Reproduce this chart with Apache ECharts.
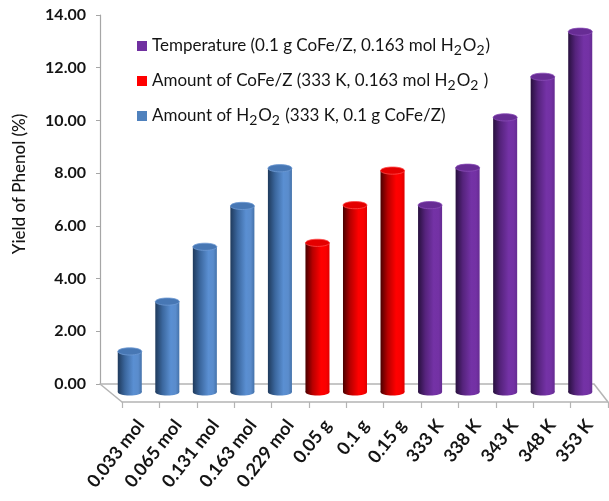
<!DOCTYPE html>
<html>
<head>
<meta charset="utf-8">
<script src="https://cdn.jsdelivr.net/npm/echarts@6/dist/echarts.min.js"></script>
<style>
  html, body { margin: 0; padding: 0; background: #ffffff; }
  #chart { width: 609px; height: 501px; }
</style>
</head>
<body>
<div id="chart"></div>
<script>
// Categories along the floor of the chart
const categories = [
  '0.033 mol', '0.065 mol', '0.131 mol', '0.163 mol', '0.229 mol',
  '0.05 g', '0.1 g', '0.15 g',
  '333 K', '338 K', '343 K', '348 K', '353 K'
];

// Phenol yield (%) for each group of experiments
const h2o2Yield = [1.54, 3.43, 5.51, 7.06, 8.49];          // 0.033 .. 0.229 mol H2O2
const catalystYield = [5.66, 7.09, 8.40];                  // 0.05 .. 0.15 g CoFe/Z
const temperatureYield = [7.09, 8.51, 10.42, 11.96, 13.67]; // 333 .. 353 K

const seriesNames = {
  temperature: 'Temperature (0.1 g CoFe/Z, 0.163 mol H2O2)',
  catalyst: 'Amount of CoFe/Z (333 K, 0.163 mol H2O2 )',
  h2o2: 'Amount of H2O2 (333 K, 0.1 g CoFe/Z)'
};

const yAxisMin = 0, yAxisMax = 14, yAxisStep = 2;
const yAxisTitle = 'Yield of Phenol (%)';

// Layout of the pseudo-3D box: back wall, mid-depth (bars) and front edge of the floor
const BACK = { left: 100, right: 594, top: 15, floor: 384 };
const MID = { left: 111, right: 599, floor: 392 };
const FRONT = { left: 122, right: 608, floor: 402 };
const plotHeight = BACK.floor - BACK.top;

const FONT = 'Lato, "Open Sans", sans-serif';
const FLOOR_COLOR = '#b4b4b4';

const palettes = {
  h2o2: {
    legend: '#4f81bd',
    body: [
      { offset: 0, color: '#1f3a5c' }, { offset: 0.3, color: '#3b679e' },
      { offset: 0.65, color: '#5a8fd2' }, { offset: 0.85, color: '#5a8ccc' },
      { offset: 1, color: '#4472aa' }
    ],
    top: '#4777b4', rim: '#6f9bd4'
  },
  catalyst: {
    legend: '#ff0000',
    body: [
      { offset: 0, color: '#4a0000' }, { offset: 0.3, color: '#b80000' },
      { offset: 0.65, color: '#ff0000' }, { offset: 0.85, color: '#fa0000' },
      { offset: 1, color: '#e00000' }
    ],
    top: '#e40000', rim: '#ff4a4a'
  },
  temperature: {
    legend: '#7030a0',
    body: [
      { offset: 0, color: '#28103e' }, { offset: 0.3, color: '#55237c' },
      { offset: 0.65, color: '#7432a6' }, { offset: 0.85, color: '#7331a4' },
      { offset: 1, color: '#652b92' }
    ],
    top: '#672c94', rim: '#8a4cb8'
  }
};

// Pair each value with its category index
function toPoints(values, startIndex) {
  return values.map((v, k) => [startIndex + k, v]);
}

// Draws a cylinder: body + rounded base, capped by an ellipse
function cylinder(palette) {
  return function (params, api) {
    const i = api.value(0);
    const v = api.value(1);
    const top = api.coord([i, v]);
    const base = api.coord([i, 0]);
    const rx = api.size([1, 0])[0] * 0.32;
    const ry = rx * 0.3;
    const cx = top[0];
    const grad = () => new echarts.graphic.LinearGradient(0, 0, 1, 0, palette.body);
    return {
      type: 'group',
      children: [
        { type: 'ellipse', shape: { cx: cx, cy: base[1], rx: rx, ry: ry }, style: { fill: grad() } },
        { type: 'rect', shape: { x: cx - rx, y: top[1], width: rx * 2, height: base[1] - top[1] }, style: { fill: grad() } },
        { type: 'ellipse', shape: { cx: cx, cy: top[1], rx: rx, ry: ry },
          style: { fill: palette.top, stroke: palette.rim, lineWidth: 0.8 } }
      ]
    };
  };
}

function cylinderSeries(key, values, startIndex) {
  return {
    name: seriesNames[key],
    type: 'custom',
    xAxisIndex: 1,
    yAxisIndex: 1,
    itemStyle: { color: palettes[key].legend },
    renderItem: cylinder(palettes[key]),
    encode: { x: 0, y: 1 },
    data: toPoints(values, startIndex)
  };
}

// Rich-text subscripts for "H2O2"
function withSubscripts(name) {
  return name.split(/(H2O2)/).map(part =>
    part === 'H2O2' ? '{n|H}{s|2}{n|O}{s|2}' : (part ? '{n|' + part + '}' : '')
  ).join('');
}

const chart = echarts.init(document.getElementById('chart'), null, { renderer: 'canvas' });

chart.setOption({
  backgroundColor: '#ffffff',
  animation: false,
  textStyle: { fontFamily: FONT },
  grid: [
    { left: BACK.left, width: BACK.right - BACK.left, top: BACK.top, height: plotHeight },
    { left: MID.left, width: MID.right - MID.left, top: MID.floor - plotHeight, height: plotHeight },
    { left: FRONT.left, width: FRONT.right - FRONT.left, top: FRONT.floor - plotHeight, height: plotHeight }
  ],
  xAxis: [
    {
      gridIndex: 0, type: 'category', data: categories,
      axisLine: { show: true, lineStyle: { color: FLOOR_COLOR, width: 1.5 } },
      axisTick: { show: false }, axisLabel: { show: false }
    },
    { gridIndex: 1, type: 'category', data: categories, show: false },
    {
      gridIndex: 2, type: 'category', data: categories,
      axisLine: { show: true, lineStyle: { color: FLOOR_COLOR, width: 1.5 } },
      axisTick: { show: true, length: 6, lineStyle: { color: FLOOR_COLOR, width: 1.2 } },
      axisLabel: {
        interval: 0, rotate: 52, margin: 20,
        fontFamily: FONT, fontWeight: 'bold', fontSize: 18, color: '#141414'
      }
    }
  ],
  yAxis: [
    {
      gridIndex: 0, type: 'value', min: yAxisMin, max: yAxisMax, interval: yAxisStep,
      axisLine: { show: true, lineStyle: { color: '#a6a6a6', width: 1.2 } },
      axisTick: { show: true, length: 4, lineStyle: { color: '#a6a6a6' } },
      splitLine: { show: false },
      axisLabel: {
        margin: 14, fontFamily: FONT, fontWeight: 'bold', fontSize: 16, color: '#141414',
        formatter: v => v.toFixed(2)
      }
    },
    { gridIndex: 1, type: 'value', min: yAxisMin, max: yAxisMax, interval: yAxisStep, show: false },
    { gridIndex: 2, type: 'value', min: yAxisMin, max: yAxisMax, interval: yAxisStep, show: false }
  ],
  legend: {
    orient: 'vertical',
    left: 132,
    top: 30,
    itemWidth: 10,
    itemHeight: 10,
    itemGap: 13,
    icon: 'rect',
    data: [seriesNames.temperature, seriesNames.catalyst, seriesNames.h2o2],
    formatter: withSubscripts,
    textStyle: {
      color: '#141414',
      rich: {
        n: { fontFamily: FONT, fontSize: 17, color: '#141414', lineHeight: 22 },
        s: { fontFamily: FONT, fontSize: 14, color: '#141414', lineHeight: 22, padding: [8, 1, 0, 0] }
      }
    }
  },
  graphic: [
    // side edges of the floor
    { type: 'line', shape: { x1: BACK.left, y1: BACK.floor, x2: FRONT.left, y2: FRONT.floor },
      style: { stroke: FLOOR_COLOR, lineWidth: 1.5 }, z: 1 },
    { type: 'line', shape: { x1: BACK.right, y1: BACK.floor, x2: FRONT.right, y2: FRONT.floor },
      style: { stroke: FLOOR_COLOR, lineWidth: 1.5 }, z: 1 },
    // value axis title
    { type: 'text', x: 20, y: 184, rotation: Math.PI / 2,
      style: { text: yAxisTitle, font: '500 17px ' + FONT, fill: '#141414', align: 'center', verticalAlign: 'middle' } }
  ],
  series: [
    cylinderSeries('h2o2', h2o2Yield, 0),
    cylinderSeries('catalyst', catalystYield, 5),
    cylinderSeries('temperature', temperatureYield, 8)
  ]
});
</script>
</body>
</html>
